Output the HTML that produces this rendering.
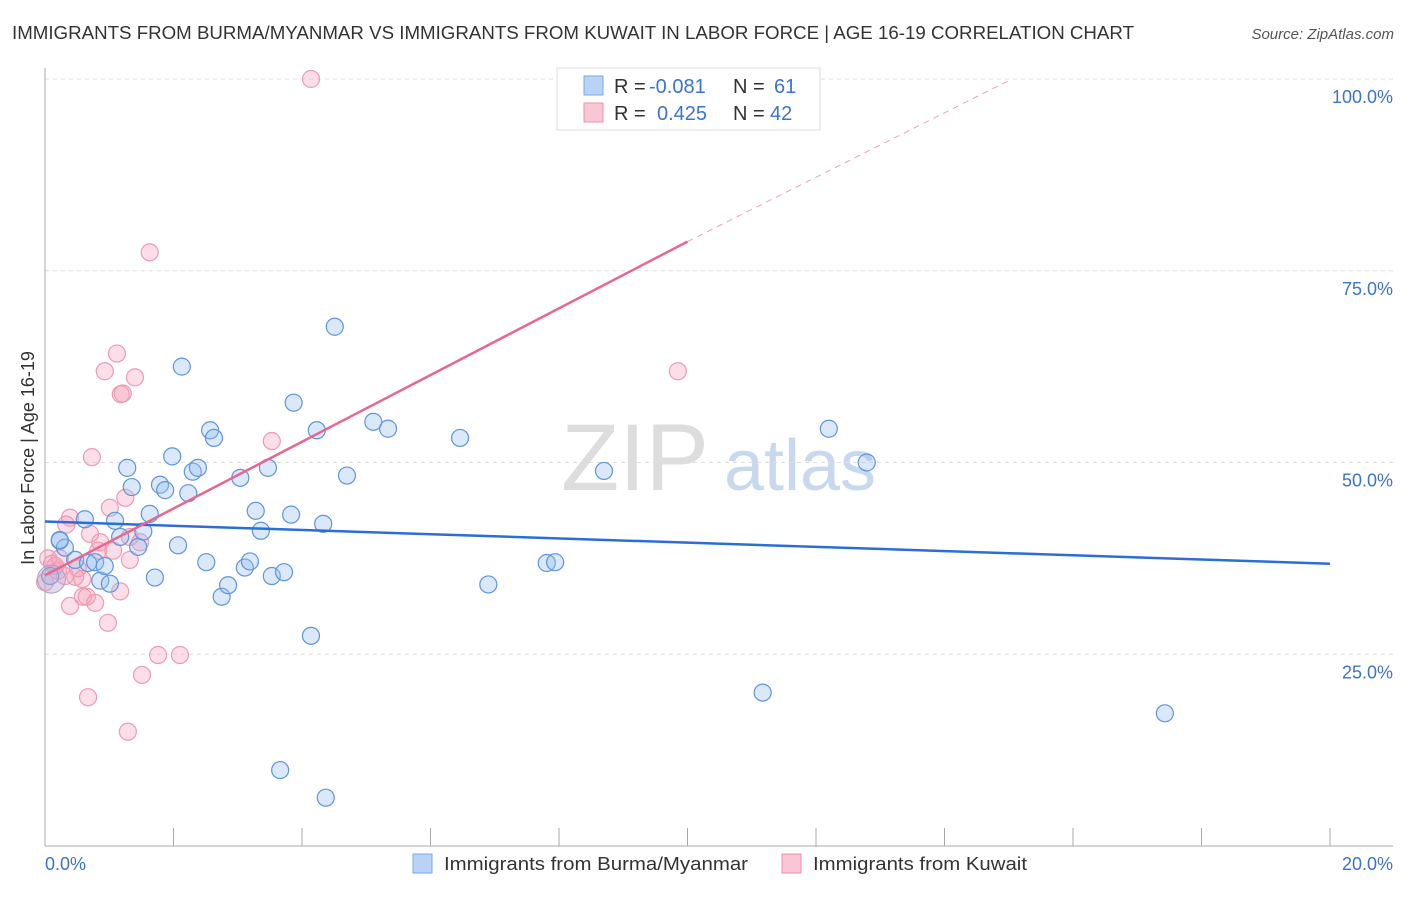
<!DOCTYPE html>
<html><head><meta charset="utf-8"><style>
body{margin:0;background:#fff;font-family:"Liberation Sans",sans-serif;}
svg text{font-family:"Liberation Sans",sans-serif;}
</style></head><body>
<svg id="chart" width="1406" height="892" xmlns="http://www.w3.org/2000/svg">
<text x="12" y="39" font-size="18" fill="#333" textLength="1122" lengthAdjust="spacingAndGlyphs">IMMIGRANTS FROM BURMA/MYANMAR VS IMMIGRANTS FROM KUWAIT IN LABOR FORCE | AGE 16-19 CORRELATION CHART</text>
<text x="1394" y="39" font-size="15" fill="#555" font-style="italic" text-anchor="end">Source: ZipAtlas.com</text>
<text x="635" y="490" font-size="95" fill="#ddd" font-family="Liberation Serif" text-anchor="middle">ZIP</text>
<text x="800" y="490" font-size="72" fill="#c8d8ee" text-anchor="middle">atlas</text>
<g id="grid"></g><g id="axes"></g><g id="pts"></g><g id="trend"></g>
<text transform="translate(34,458) rotate(-90)" font-size="18" fill="#333" text-anchor="middle">In Labor Force | Age 16-19</text>
<text x="45" y="870" font-size="18" fill="#3b73d1">0.0%</text>
<text x="1393" y="870" font-size="18" fill="#3b73d1" text-anchor="end">20.0%</text>
<g>
<rect x="557" y="68" width="263" height="62" fill="#fff" stroke="#ddd"/>
<rect x="584" y="76" width="19" height="19" fill="#b8d3f5" stroke="#7aa7e8"/>
<rect x="584" y="103" width="19" height="19" fill="#f9c6d4" stroke="#ee8fac"/>
<text x="614" y="93" font-size="20" fill="#333">R = <tspan x="649" fill="#3b73d1">-0.081</tspan><tspan x="733">N = </tspan><tspan x="774" fill="#3b73d1">61</tspan></text>
<text x="614" y="120" font-size="20" fill="#333">R = <tspan x="657" fill="#3b73d1">0.425</tspan><tspan x="733">N = </tspan><tspan x="770" fill="#3b73d1">42</tspan></text>
</g>
<g>
<rect x="413" y="854" width="19" height="19" fill="#b8d3f5" stroke="#7aa7e8"/>
<text x="444" y="870" font-size="18" fill="#333" textLength="304" lengthAdjust="spacingAndGlyphs">Immigrants from Burma/Myanmar</text>
<rect x="782" y="854" width="19" height="19" fill="#f9c6d4" stroke="#ee8fac"/>
<text x="813" y="870" font-size="18" fill="#333" textLength="214" lengthAdjust="spacingAndGlyphs">Immigrants from Kuwait</text>
</g>
</svg>
<script>
const yTicks=[25,50,75,100];
const yTickLabels=["25.0%","50.0%","75.0%","100.0%"];
const blueX=[0.23,0.31,0.47,0.62,0.67,0.78,0.86,0.93,1.01,1.09,1.17,1.28,1.35,1.45,1.53,1.63,1.71,1.79,1.87,1.98,2.07,2.13,2.23,2.30,2.38,2.51,2.57,2.63,2.75,2.85,3.04,3.11,3.19,3.28,3.36,3.47,3.53,3.66,3.72,3.83,3.87,4.14,4.23,4.33,4.37,4.51,4.70,5.11,5.34,6.46,6.90,7.81,7.94,8.70,11.17,12.20,12.79,17.43,0.08,0.23];
const blueY=[39.8,38.9,37.3,42.6,36.9,37.0,34.6,36.5,34.2,42.4,40.3,49.3,46.8,39.0,41.0,43.3,35.0,47.1,46.4,50.8,39.2,62.5,46.0,48.8,49.3,37.0,54.2,53.2,32.5,34.0,48.0,36.3,37.1,43.7,41.1,49.3,35.2,9.9,35.7,43.2,57.8,27.4,54.2,42.0,6.3,67.7,48.3,55.3,54.4,53.2,34.1,36.9,37.0,48.9,20.0,54.4,50.0,17.3,35.2,39.9];
const pinkX=[4.14,1.63,1.12,0.93,1.40,1.21,1.18,0.73,1.25,3.53,9.85,0.39,0.33,1.01,0.70,0.86,1.32,1.48,1.06,0.83,1.32,0.05,0.11,0.20,0.47,0.58,0.31,0.39,0.59,0.65,0.78,1.17,0.98,1.76,2.10,1.51,0.67,1.29,0.16,0.0,0.23,0.51];
const pinkY=[100,77.4,64.2,61.9,61.1,59.0,58.9,50.7,45.4,52.8,61.9,42.8,41.9,44.1,40.7,39.6,40.3,39.6,38.5,38.5,37.3,37.5,36.8,35.9,35.1,34.8,35.2,31.3,32.5,32.5,31.7,33.2,29.1,24.9,24.9,22.3,19.4,14.9,36.5,34.4,37.5,36.2];
const X0=45,X1=1330,Y0=846,Y100=79;
const xs=v=>X0+(v/20)*(X1-X0);
const ys=v=>Y0-(v/100)*(Y0-Y100);
const NS="http://www.w3.org/2000/svg";
function mk(t,a,p){const e=document.createElementNS(NS,t);for(const k in a)e.setAttribute(k,a[k]);p.appendChild(e);return e;}
const grid=document.getElementById('grid'),axes=document.getElementById('axes');
yTicks.forEach((t,i)=>{
 const l=mk('line',{x1:X0,x2:1393,y1:ys(t),y2:ys(t),stroke:'#ddd','stroke-dasharray':'4,4'},grid);
 
 
 const tx=mk('text',{x:1393,y:ys(t)+24,'font-size':18,fill:'#3b73d1','text-anchor':'end'},grid);
 tx.textContent=yTickLabels[i];
 
 
});
const ax=mk('line',{x1:X0,x2:X0,y1:68,y2:Y0,stroke:'#aaa'},axes);


const bx=mk('line',{x1:X0,x2:1393,y1:Y0,y2:Y0,stroke:'#aaa'},axes);


for(let i=0;i<=10;i++){const x=xs(i*2);const t=mk('line',{x1:x,x2:x,y1:828,y2:Y0,stroke:'#aaa'},axes);
 
 }
const pts=document.getElementById('pts');
pinkX.forEach((v,i)=>{const c=mk('circle',{cx:xs(v),cy:ys(pinkY[i]),r:8.5,fill:'rgba(244,160,185,0.35)',stroke:'#ee9ab3','stroke-width':1.2},pts);
 
 });
blueX.forEach((v,i)=>{const c=mk('circle',{cx:xs(v),cy:ys(blueY[i]),r:8.5,fill:'rgba(150,190,240,0.35)',stroke:'#5d95df','stroke-width':1.2},pts);
 
 });
const big=mk('circle',{cx:xs(0.1),cy:ys(34.8),r:14,fill:'rgba(190,170,210,0.45)',stroke:'#a9a0cf'},pts);


const tr=document.getElementById('trend');
const b=mk('line',{x1:xs(0),y1:ys(42.3),x2:xs(20),y2:ys(36.8),stroke:'#2a6fd6','stroke-width':2.5},tr);


const p=mk('line',{x1:xs(0),y1:ys(35.3),x2:xs(10),y2:ys(78.8),stroke:'#e8678f','stroke-width':2.5},tr);


const pd=mk('line',{x1:xs(10),y1:ys(78.8),x2:xs(15.05),y2:ys(100),stroke:'#eea0b8','stroke-width':1,'stroke-dasharray':'6,5'},tr);


</script>
</body></html>
